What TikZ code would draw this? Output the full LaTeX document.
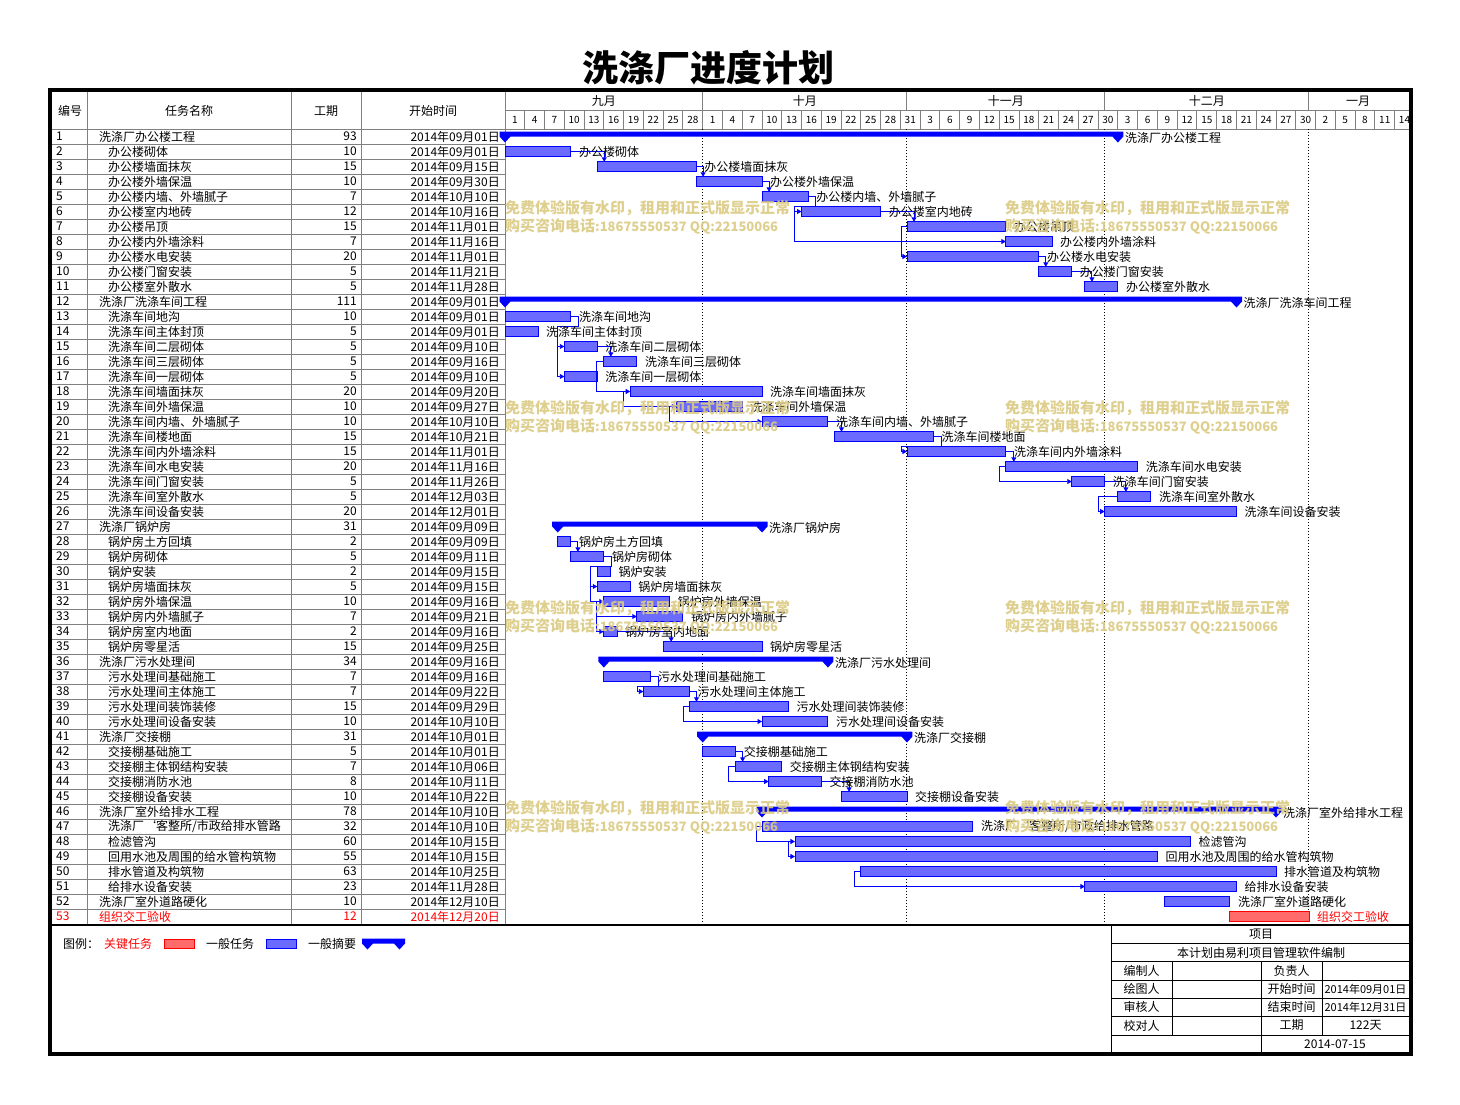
\documentclass[tikz,border=0pt]{standalone}
\usepackage{fontspec}
\setmainfont{Noto Sans CJK SC}
\usetikzlibrary{positioning,arrows.meta}
\definecolor{wm}{RGB}{218,202,130}

\tikzset{
  cell/.style={anchor=west, inner sep=0pt, font=\fontsize{12}{12}\selectfont},
  head/.style={inner sep=0pt, font=\fontsize{12}{12}\selectfont},
  day/.style={inner sep=0pt, font=\fontsize{10}{10}\selectfont},
  gline/.style={draw=gray, line width=1pt},
  task/.style={draw=blue, fill=blue!58, line width=0.9pt, anchor=west, minimum height=9.4pt, inner sep=0pt, outer sep=0pt},
  crit/.style={task, draw=red, fill=red!58},
  len/.style={minimum width={6.59*#1}},
  lbl/.style={anchor=west, inner sep=0pt, font=\fontsize{12}{12}\selectfont},
  link/.style={draw=blue, line width=0.9pt, ->, >={Triangle[length=4.5pt,width=5pt]}},
  wmark/.style={anchor=west, inner sep=0pt, text=wm, opacity=0.9, font=\fontsize{15}{15}\selectfont\bfseries}
}

% one line of the task table
\newcommand\taskrow[5]{%
  \node[cell] (no#1) at (56,{ry(#1)}) {#1};
  \node[cell] (tn#1) at (#2,{ry(#1)}) {#3};
  \node[cell,anchor=east] (du#1) at (357,{ry(#1)}) {#4};
  \node[cell,anchor=east] (dt#1) at (500,{ry(#1)}) {2014年#5日};}

% summary bar: y, left end, right end
\newcommand\summ[3]{%
  \fill[blue] ({#2-5.5},{#1-5}) -- ({#3+5.5},{#1-5}) -- ({#3+5.5},{#1}) -- ({#3},{#1+6})
    -- ({#3-5.5},{#1}) -- ({#2+5.5},{#1}) -- ({#2},{#1+6}) -- ({#2-5.5},{#1}) -- cycle;}

\begin{document}
\begin{tikzpicture}[x=1pt, y=-1pt,
  declare function={dx(\x)=505+6.59*\x; ry(\x)=121.5+15*\x;}]
\useasboundingbox (0,0) rectangle (1460,1104);

\node[font=\fontsize{36}{36}\selectfont\bfseries] (title) at (708,68) {洗涤厂进度计划};

% table grid
\foreach \c in {87,291,361,505} \draw[gline] (\c,92) -- (\c,924);
\draw[gline] (52,129) -- (1409,129);
\draw[gline] (505,110) -- (1409,110);
\foreach \r in {1,...,52} \draw[gline] (52,{129+15*\r}) -- (505,{129+15*\r});
\foreach \k in {1,...,45} \draw[gline] ({dx(3*\k)},110) -- ({dx(3*\k)},129);
\foreach \d in {30,61,91,122} {
  \draw[gline] ({dx(\d)},92) -- ({dx(\d)},110);
  \draw[dotted, line width=1pt] ({dx(\d)},129) -- ({dx(\d)},924);
}

% headings
\node[head] (h1) at (70,111) {编号};
\node[head] (h2) at (189,111) {任务名称};
\node[head] (h3) at (326,111) {工期};
\node[head] (h4) at (433,111) {开始时间};
\node[head] (m1) at ({dx(15)},101) {九月};
\node[head] (m2) at ({dx(45.5)},101) {十月};
\node[head] (m3) at ({dx(76)},101) {十一月};
\node[head] (m4) at ({dx(106.5)},101) {十二月};
\node[head] (m5) at (1358,101) {一月};
\foreach \l [count=\k from 0] in {1,4,7,10,13,16,19,22,25,28,1,4,7,10,13,16,19,22,25,28,31,3,6,9,12,15,18,21,24,27,30,3,6,9,12,15,18,21,24,27,30,2,5,8,11,14}
  \node[day] (dy\k) at ({dx(3*\k+1.5)},119.5) {\l};

% task table
\taskrow{1}{99}{洗涤厂办公楼工程}{93}{09月01}
\taskrow{2}{108}{办公楼砌体}{10}{09月01}
\taskrow{3}{108}{办公楼墙面抹灰}{15}{09月15}
\taskrow{4}{108}{办公楼外墙保温}{10}{09月30}
\taskrow{5}{108}{办公楼内墙、外墙腻子}{7}{10月10}
\taskrow{6}{108}{办公楼室内地砖}{12}{10月16}
\taskrow{7}{108}{办公楼吊顶}{15}{11月01}
\taskrow{8}{108}{办公楼内外墙涂料}{7}{11月16}
\taskrow{9}{108}{办公楼水电安装}{20}{11月01}
\taskrow{10}{108}{办公楼门窗安装}{5}{11月21}
\taskrow{11}{108}{办公楼室外散水}{5}{11月28}
\taskrow{12}{99}{洗涤厂洗涤车间工程}{111}{09月01}
\taskrow{13}{108}{洗涤车间地沟}{10}{09月01}
\taskrow{14}{108}{洗涤车间主体封顶}{5}{09月01}
\taskrow{15}{108}{洗涤车间二层砌体}{5}{09月10}
\taskrow{16}{108}{洗涤车间三层砌体}{5}{09月16}
\taskrow{17}{108}{洗涤车间一层砌体}{5}{09月10}
\taskrow{18}{108}{洗涤车间墙面抹灰}{20}{09月20}
\taskrow{19}{108}{洗涤车间外墙保温}{10}{09月27}
\taskrow{20}{108}{洗涤车间内墙、外墙腻子}{10}{10月10}
\taskrow{21}{108}{洗涤车间楼地面}{15}{10月21}
\taskrow{22}{108}{洗涤车间内外墙涂料}{15}{11月01}
\taskrow{23}{108}{洗涤车间水电安装}{20}{11月16}
\taskrow{24}{108}{洗涤车间门窗安装}{5}{11月26}
\taskrow{25}{108}{洗涤车间室外散水}{5}{12月03}
\taskrow{26}{108}{洗涤车间设备安装}{20}{12月01}
\taskrow{27}{99}{洗涤厂锅炉房}{31}{09月09}
\taskrow{28}{108}{锅炉房土方回填}{2}{09月09}
\taskrow{29}{108}{锅炉房砌体}{5}{09月11}
\taskrow{30}{108}{锅炉安装}{2}{09月15}
\taskrow{31}{108}{锅炉房墙面抹灰}{5}{09月15}
\taskrow{32}{108}{锅炉房外墙保温}{10}{09月16}
\taskrow{33}{108}{锅炉房内外墙腻子}{7}{09月21}
\taskrow{34}{108}{锅炉房室内地面}{2}{09月16}
\taskrow{35}{108}{锅炉房零星活}{15}{09月25}
\taskrow{36}{99}{洗涤厂污水处理间}{34}{09月16}
\taskrow{37}{108}{污水处理间基础施工}{7}{09月16}
\taskrow{38}{108}{污水处理间主体施工}{7}{09月22}
\taskrow{39}{108}{污水处理间装饰装修}{15}{09月29}
\taskrow{40}{108}{污水处理间设备安装}{10}{10月10}
\taskrow{41}{99}{洗涤厂交接棚}{31}{10月01}
\taskrow{42}{108}{交接棚基础施工}{5}{10月01}
\taskrow{43}{108}{交接棚主体钢结构安装}{7}{10月06}
\taskrow{44}{108}{交接棚消防水池}{8}{10月11}
\taskrow{45}{108}{交接棚设备安装}{10}{10月22}
\taskrow{46}{99}{洗涤厂室外给排水工程}{78}{10月10}
\taskrow{47}{108}{洗涤厂`客整所/市政给排水管路}{32}{10月10}
\taskrow{48}{108}{检滤管沟}{60}{10月15}
\taskrow{49}{108}{回用水池及周围的给水管构筑物}{55}{10月15}
\taskrow{50}{108}{排水管道及构筑物}{63}{10月25}
\taskrow{51}{108}{给排水设备安装}{23}{11月28}
\taskrow{52}{99}{洗涤厂室外道路硬化}{10}{12月10}
\begin{scope}[every node/.append style={text=red}]
\taskrow{53}{99}{组织交工验收}{12}{12月20}
\end{scope}

% summary bars
\summ{ry(1)}{dx(0)}{dx(93)}
\summ{ry(12)}{dx(0)}{dx(111)}
\summ{ry(27)}{dx(8)}{dx(39)}
\summ{ry(36)}{dx(15)}{dx(49)}
\summ{ry(41)}{dx(30)}{dx(61)}
\summ{ry(46)}{dx(39)}{dx(117)}
\node[lbl] (l1) at ({dx(93)+7},{ry(1)+1}) {洗涤厂办公楼工程};
\node[lbl] (l12) at ({dx(111)+7},{ry(12)+1}) {洗涤厂洗涤车间工程};
\node[lbl] (l27) at ({dx(39)+7},{ry(27)+1}) {洗涤厂锅炉房};
\node[lbl] (l36) at ({dx(49)+7},{ry(36)+1}) {洗涤厂污水处理间};
\node[lbl] (l41) at ({dx(61)+7},{ry(41)+1}) {洗涤厂交接棚};
\node[lbl] (l46) at ({dx(117)+7},{ry(46)+1}) {洗涤厂室外给排水工程};

% task bars
\node[task,len=10] (b2) at ({dx(0)},{ry(2)}) {};
\node[task,len=15] (b3) at ({dx(14)},{ry(3)}) {};
\node[task,len=10] (b4) at ({dx(29)},{ry(4)}) {};
\node[task,len=7] (b5) at ({dx(39)},{ry(5)}) {};
\node[task,len=12] (b6) at ({dx(45)},{ry(6)}) {};
\node[task,len=15] (b7) at ({dx(61)},{ry(7)}) {};
\node[task,len=7] (b8) at ({dx(76)},{ry(8)}) {};
\node[task,len=20] (b9) at ({dx(61)},{ry(9)}) {};
\node[task,len=5] (b10) at ({dx(81)},{ry(10)}) {};
\node[task,len=5] (b11) at ({dx(88)},{ry(11)}) {};
\node[task,len=10] (b13) at ({dx(0)},{ry(13)}) {};
\node[task,len=5] (b14) at ({dx(0)},{ry(14)}) {};
\node[task,len=5] (b15) at ({dx(9)},{ry(15)}) {};
\node[task,len=5] (b16) at ({dx(15)},{ry(16)}) {};
\node[task,len=5] (b17) at ({dx(9)},{ry(17)}) {};
\node[task,len=20] (b18) at ({dx(19)},{ry(18)}) {};
\node[task,len=10] (b19) at ({dx(26)},{ry(19)}) {};
\node[task,len=10] (b20) at ({dx(39)},{ry(20)}) {};
\node[task,len=15] (b21) at ({dx(50)},{ry(21)}) {};
\node[task,len=15] (b22) at ({dx(61)},{ry(22)}) {};
\node[task,len=20] (b23) at ({dx(76)},{ry(23)}) {};
\node[task,len=5] (b24) at ({dx(86)},{ry(24)}) {};
\node[task,len=5] (b25) at ({dx(93)},{ry(25)}) {};
\node[task,len=20] (b26) at ({dx(91)},{ry(26)}) {};
\node[task,len=2] (b28) at ({dx(8)},{ry(28)}) {};
\node[task,len=5] (b29) at ({dx(10)},{ry(29)}) {};
\node[task,len=2] (b30) at ({dx(14)},{ry(30)}) {};
\node[task,len=5] (b31) at ({dx(14)},{ry(31)}) {};
\node[task,len=10] (b32) at ({dx(15)},{ry(32)}) {};
\node[task,len=7] (b33) at ({dx(20)},{ry(33)}) {};
\node[task,len=2] (b34) at ({dx(15)},{ry(34)}) {};
\node[task,len=15] (b35) at ({dx(24)},{ry(35)}) {};
\node[task,len=7] (b37) at ({dx(15)},{ry(37)}) {};
\node[task,len=7] (b38) at ({dx(21)},{ry(38)}) {};
\node[task,len=15] (b39) at ({dx(28)},{ry(39)}) {};
\node[task,len=10] (b40) at ({dx(39)},{ry(40)}) {};
\node[task,len=5] (b42) at ({dx(30)},{ry(42)}) {};
\node[task,len=7] (b43) at ({dx(35)},{ry(43)}) {};
\node[task,len=8] (b44) at ({dx(40)},{ry(44)}) {};
\node[task,len=10] (b45) at ({dx(51)},{ry(45)}) {};
\node[task,len=32] (b47) at ({dx(39)},{ry(47)}) {};
\node[task,len=60] (b48) at ({dx(44)},{ry(48)}) {};
\node[task,len=55] (b49) at ({dx(44)},{ry(49)}) {};
\node[task,len=63] (b50) at ({dx(54)},{ry(50)}) {};
\node[task,len=23] (b51) at ({dx(88)},{ry(51)}) {};
\node[task,len=10] (b52) at ({dx(100)},{ry(52)}) {};
\node[crit,len=12] (b53) at ({dx(110)},{ry(53)}) {};

% links
\draw[link] (b2.east) -| ([xshift=7pt]b3.north west);
\draw[link] (b3.east) -| ([xshift=7pt]b4.north west);
\draw[link] (b4.east) -| ([xshift=7pt]b5.north west);
\draw[link] (b5.east) -- ++(7,0) -- ++(0,9.5) -| ([xshift=-7pt]b6.west) -- (b6.west);
\draw[link] ([xshift=-7pt]b6.west) |- (b8.west);
\draw[link] (b6.east) -| ([xshift=7pt]b7.north west);
\draw[link] (b7.west) -- ++(-6,0) |- (b9.west);
\draw[link] (b9.east) -| ([xshift=7pt]b10.north west);
\draw[link] (b10.east) -| ([xshift=7pt]b11.north west);
\draw[link] (b13.east) -- ++(8,0) -- ++(0,10) -| ([xshift=-7pt]b15.west) -- (b15.west);
\draw[link] ([xshift=-7pt]b15.west) |- (b17.west);
\draw[link] (b15.east) -| ([xshift=7pt]b16.north west);
\draw[link] (b16.west) -- ++(-7,0) |- (b18.west);
\draw[link] ([xshift=-7pt]b18.west) |- (b19.west);
\draw[link] ([xshift=-7pt]b19.west) |- (b20.west);
\draw[link] (b20.east) -| ([xshift=7pt]b21.north west);
\draw[link] (b21.east) -- ++(8,0) -- ++(0,9.5) -| ([xshift=-6pt]b22.west) -- (b22.west);
\draw[link] (b22.east) -| ([xshift=8pt]b23.north west);
\draw[link] (b23.west) -- ++(-6,0) |- (b24.west);
\draw[link] (b24.east) -| ([xshift=8pt]b25.north west);
\draw[link] (b25.west) -| ([xshift=-6pt]b26.west) -- (b26.west);
\draw[link] (b28.east) -| ([xshift=7pt]b29.north west);
\draw[link] (b29.east) -- ++(8,0) -- ++(0,9.5) -| ([xshift=-7pt]b31.west) -- (b31.west);
\draw[link] ([xshift=-7pt]b31.west) |- (b32.west);
\draw[link] (b32.west) -- ++(-7,0) |- (b34.west);
\draw[link] ([xshift=-7pt]b32.west) |- (b33.west);
\draw[link] (b34.east) -| ([xshift=8pt]b35.north west);
\draw[link] (b37.east) -- ++(8,0) -- ++(0,10) -| ([xshift=-6pt]b38.west) -- (b38.west);
\draw[link] (b38.east) -| ([xshift=7pt]b39.north west);
\draw[link] (b39.west) -- ++(-6,0) |- (b40.west);
\draw[link] (b42.east) -| ([xshift=7pt]b43.north west);
\draw[link] (b43.west) -- ++(-7,0) |- (b44.west);
\draw[link] (b44.east) -| ([xshift=8pt]b45.north west);
\draw[link] (b47.west) -- ++(-6,0) |- (b48.west);
\draw[link] ([xshift=-7pt]b48.west) |- (b49.west);
\draw[link] (b50.west) -- ++(-6,0) |- (b51.west);

% bar labels
\node[lbl, right=8pt of b2] (l2) {办公楼砌体};
\node[lbl, right=8pt of b3] (l3) {办公楼墙面抹灰};
\node[lbl, right=8pt of b4] (l4) {办公楼外墙保温};
\node[lbl, right=8pt of b5] (l5) {办公楼内墙、外墙腻子};
\node[lbl, right=8pt of b6] (l6) {办公楼室内地砖};
\node[lbl, right=8pt of b7] (l7) {办公楼吊顶};
\node[lbl, right=8pt of b8] (l8) {办公楼内外墙涂料};
\node[lbl, right=8pt of b9] (l9) {办公楼水电安装};
\node[lbl, right=8pt of b10] (l10) {办公楼门窗安装};
\node[lbl, right=8pt of b11] (l11) {办公楼室外散水};
\node[lbl, right=8pt of b13] (l13) {洗涤车间地沟};
\node[lbl, right=8pt of b14] (l14) {洗涤车间主体封顶};
\node[lbl, right=8pt of b15] (l15) {洗涤车间二层砌体};
\node[lbl, right=8pt of b16] (l16) {洗涤车间三层砌体};
\node[lbl, right=8pt of b17] (l17) {洗涤车间一层砌体};
\node[lbl, right=8pt of b18] (l18) {洗涤车间墙面抹灰};
\node[lbl, right=8pt of b19] (l19) {洗涤车间外墙保温};
\node[lbl, right=8pt of b20] (l20) {洗涤车间内墙、外墙腻子};
\node[lbl, right=8pt of b21] (l21) {洗涤车间楼地面};
\node[lbl, right=8pt of b22] (l22) {洗涤车间内外墙涂料};
\node[lbl, right=8pt of b23] (l23) {洗涤车间水电安装};
\node[lbl, right=8pt of b24] (l24) {洗涤车间门窗安装};
\node[lbl, right=8pt of b25] (l25) {洗涤车间室外散水};
\node[lbl, right=8pt of b26] (l26) {洗涤车间设备安装};
\node[lbl, right=8pt of b28] (l28) {锅炉房土方回填};
\node[lbl, right=8pt of b29] (l29) {锅炉房砌体};
\node[lbl, right=8pt of b30] (l30) {锅炉安装};
\node[lbl, right=8pt of b31] (l31) {锅炉房墙面抹灰};
\node[lbl, right=8pt of b32] (l32) {锅炉房外墙保温};
\node[lbl, right=8pt of b33] (l33) {锅炉房内外墙腻子};
\node[lbl, right=8pt of b34] (l34) {锅炉房室内地面};
\node[lbl, right=8pt of b35] (l35) {锅炉房零星活};
\node[lbl, right=8pt of b37] (l37) {污水处理间基础施工};
\node[lbl, right=8pt of b38] (l38) {污水处理间主体施工};
\node[lbl, right=8pt of b39] (l39) {污水处理间装饰装修};
\node[lbl, right=8pt of b40] (l40) {污水处理间设备安装};
\node[lbl, right=8pt of b42] (l42) {交接棚基础施工};
\node[lbl, right=8pt of b43] (l43) {交接棚主体钢结构安装};
\node[lbl, right=8pt of b44] (l44) {交接棚消防水池};
\node[lbl, right=8pt of b45] (l45) {交接棚设备安装};
\node[lbl, right=8pt of b47] (l47) {洗涤厂`客整所/市政给排水管路};
\node[lbl, right=8pt of b48] (l48) {检滤管沟};
\node[lbl, right=8pt of b49] (l49) {回用水池及周围的给水管构筑物};
\node[lbl, right=8pt of b50] (l50) {排水管道及构筑物};
\node[lbl, right=8pt of b51] (l51) {给排水设备安装};
\node[lbl, right=8pt of b52] (l52) {洗涤厂室外道路硬化};
\node[lbl, text=red, right=8pt of b53] (l53) {组织交工验收};

% legend
\draw[line width=2pt] (50,925) -- (1411,925);
\node[cell] (lg0) at (63,944) {图例：};
\node[cell, text=red] (lg1) at (104,944) {关键任务};
\node[crit, minimum width=30pt] (lgc) at (164,944) {};
\node[cell] (lg2) at (206,944) {一般任务};
\node[task, minimum width=30pt] (lgt) at (266,944) {};
\node[cell] (lg3) at (308,944) {一般摘要};
\summ{943.5}{367.5}{399.5}

% sign-off table
\draw[line width=1pt] (1111,925) -- (1111,1054);
\foreach \y in {943,961,980,998,1016,1035} \draw[line width=1pt] (1111,\y) -- (1409,\y);
\draw[line width=1pt] (1172,961) -- (1172,1035);
\draw[line width=1pt] (1261,961) -- (1261,1054);
\draw[line width=1pt] (1322,961) -- (1322,1035);
\node[head] (f1) at (1261,934.5) {项目};
\node[head] (f2) at (1261,952.5) {本计划由易利项目管理软件编制};
\node[head] (f3) at (1141.5,970.5) {编制人};
\node[head] (f4) at (1291.5,970.5) {负责人};
\node[head] (f5) at (1141.5,989) {绘图人};
\node[head] (f6) at (1291.5,989) {开始时间};
\node[head, font=\fontsize{11}{11}\selectfont] (f7) at (1365.5,989) {2014年09月01日};
\node[head] (f8) at (1141.5,1007) {审核人};
\node[head] (f9) at (1291.5,1007) {结束时间};
\node[head, font=\fontsize{11}{11}\selectfont] (f10) at (1365.5,1007) {2014年12月31日};
\node[head] (f11) at (1141.5,1025.5) {校对人};
\node[head] (f12) at (1291.5,1025.5) {工期};
\node[head] (f13) at (1365.5,1025.5) {122天};
\node[head] (f14) at (1335,1044) {2014-07-15};

% watermark
\foreach \y [count=\i] in {208,408,608,808}
  \foreach \x [count=\j] in {505,1005} {
    \node[wmark] (wa\i\j) at (\x,\y) {免费体验版有水印，租用和正式版显示正常};
    \node[wmark] (wb\i\j) at (\x,{\y+18}) {购买咨询电话{\fontsize{13}{15}\selectfont :18675550537 QQ:22150066}};
  }

\draw[line width=4pt] (50,90) rectangle (1411,1054);
\end{tikzpicture}
\end{document}
